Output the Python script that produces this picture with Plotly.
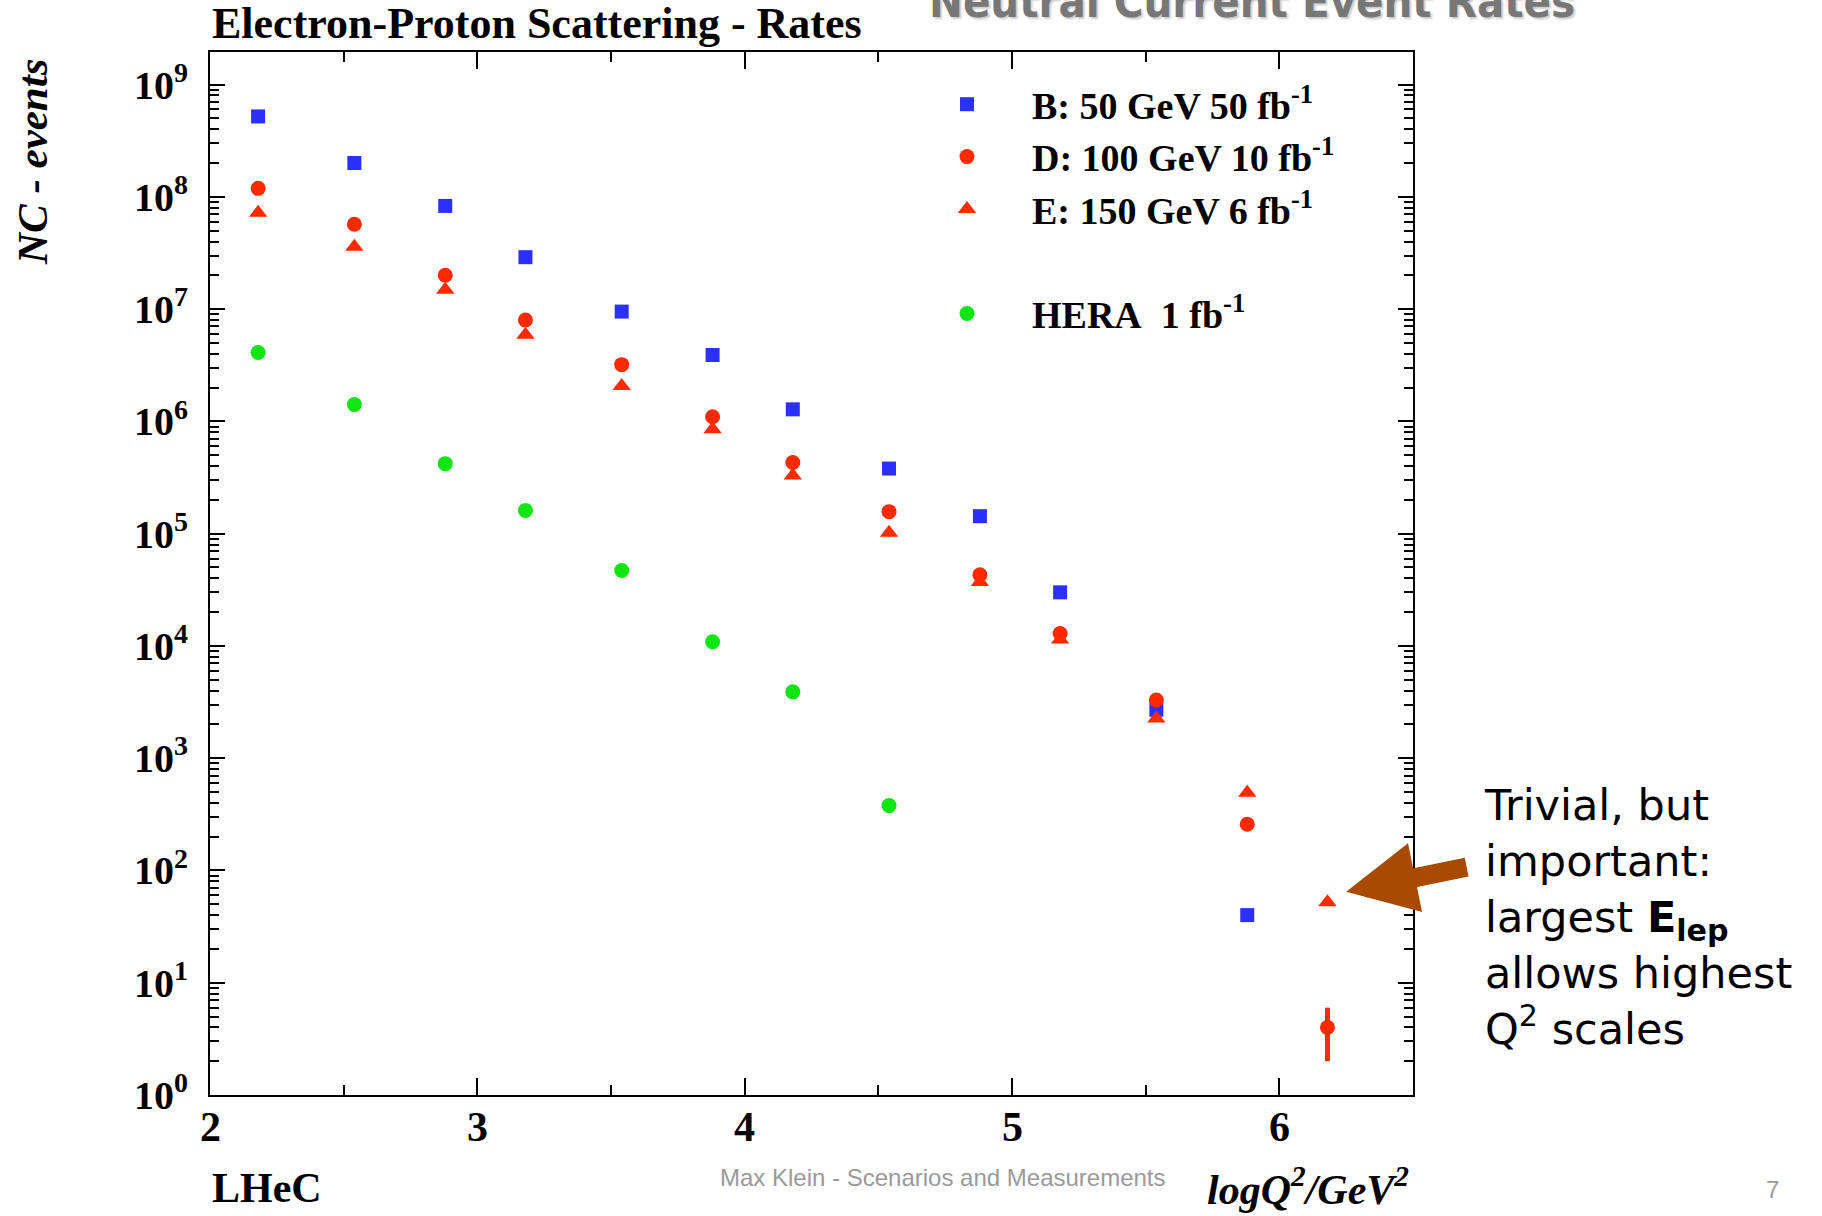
import plotly.graph_objects as go

# ---------------- data ----------------
q2_log = [2.18, 2.54, 2.88, 3.18, 3.54, 3.88, 4.18, 4.54, 4.88, 5.18, 5.54, 5.88, 6.18]

b_events = [5.2e8, 2.0e8, 8.3e7, 2.9e7, 9.5e6, 3.9e6, 1.28e6, 3.8e5, 1.43e5, 3.0e4, 2.7e3, 40]
d_events = [1.19e8, 5.7e7, 2.0e7, 8.0e6, 3.2e6, 1.1e6, 4.3e5, 1.57e5, 4.3e4, 1.29e4, 3.3e3, 258, 4.0]
d_errors = [0, 0, 0, 0, 0, 0, 0, 0, 0, 0, 0, 0, 2.0]
e_events = [7.2e7, 3.6e7, 1.49e7, 5.9e6, 2.07e6, 8.5e5, 3.3e5, 1.02e5, 3.7e4, 1.14e4, 2.26e3, 492, 52]
hera_events = [4.1e6, 1.41e6, 4.2e5, 1.61e5, 4.7e4, 1.09e4, 3.9e3, 378]

series_names = [
    "B: 50 GeV 50 fb<sup>-1</sup>",
    "D: 100 GeV 10 fb<sup>-1</sup>",
    "E: 150 GeV 6 fb<sup>-1</sup>",
    "HERA\u00a0 1 fb<sup>-1</sup>",
]

y_exponents = [0, 1, 2, 3, 4, 5, 6, 7, 8, 9]
y_tick_vals = [10 ** e for e in y_exponents]
y_tick_text = ["10<sup>%d</sup>" % e for e in y_exponents]
y_minor_vals = [k * 10 ** e for e in y_exponents for k in range(2, 10)]

x_tick_vals = [2, 3, 4, 5, 6]
x_tick_text = ["2", "3", "4", "5", "6"]

BLUE = "#2b30ff"
RED = "#ff2a00"
GREEN = "#12e612"
SERIF = "Liberation Serif, Times New Roman, serif"

# pixel layout of the frame
W, H = 1822, 1216
L, R, T, B = 210, 1413, 52, 1095


def px(x):
    return (x - L) / (R - L)


def py(y):
    return (B - y) / (B - T)


fig = go.Figure()

fig.add_trace(go.Scatter(
    x=q2_log[:len(b_events)], y=b_events, mode="markers", name=series_names[0],
    legendgroup="lhec",
    marker=dict(symbol="square", size=14, color=BLUE),
))
fig.add_trace(go.Scatter(
    x=q2_log[:len(d_events)], y=d_events, mode="markers", name=series_names[1],
    legendgroup="lhec",
    marker=dict(symbol="circle", size=15, color=RED),
    error_y=dict(type="data", array=d_errors, visible=True, color=RED, thickness=5, width=0),
))
fig.add_trace(go.Scatter(
    x=q2_log[:len(e_events)], y=e_events, mode="markers", name=series_names[2],
    legendgroup="lhec",
    marker=dict(symbol="triangle-up", size=16, color=RED),
))
fig.add_trace(go.Scatter(
    x=q2_log[:len(hera_events)], y=hera_events, mode="markers", name=series_names[3],
    legendgroup="hera",
    marker=dict(symbol="circle", size=15, color=GREEN),
))

axis_common = dict(
    showline=True, linecolor="black", linewidth=2, mirror="ticks",
    ticks="inside", tickcolor="black", tickwidth=2,
    showgrid=False, zeroline=False,
)

fig.update_xaxes(
    range=[2, 6.5], tickmode="array", tickvals=x_tick_vals, ticktext=x_tick_text,
    ticklen=17, showticklabels=False,
    minor=dict(dtick=0.5, ticks="inside", ticklen=10, tickwidth=2, tickcolor="black", showgrid=False),
    **axis_common,
)
fig.update_yaxes(
    type="log", range=[0, 9.29], tickmode="array", tickvals=y_tick_vals, ticktext=y_tick_text,
    ticklen=15, ticklabelstandoff=12,
    tickfont=dict(family=SERIF, size=40, color="black", weight="bold"),
    minor=dict(tickmode="array", tickvals=y_minor_vals, ticks="inside", ticklen=9,
               tickwidth=2, tickcolor="black", showgrid=False),
    **axis_common,
)

annotations = [
    # chart title
    dict(text="<b>Electron-Proton Scattering - Rates</b>", xref="paper", yref="paper",
         x=0, y=py(23), xanchor="left", yanchor="middle", showarrow=False,
         font=dict(family=SERIF, size=44, color="black")),
    # slide title, cut by the top of the page
    dict(text="<b>Neutral Current Event Rates</b>", xref="paper", yref="paper",
         x=px(1252), y=py(2), xanchor="center", yanchor="middle", showarrow=False,
         font=dict(family="Liberation Sans Narrow, DejaVu Sans Condensed, Liberation Sans", size=45,
                   color="#777777", shadow="2px 2px 2px #cccccc")),
    # y axis title
    dict(text="<b><i>NC - events</i></b>", xref="paper", yref="paper",
         x=px(32), y=py(162), xanchor="center", yanchor="middle", textangle=-90, showarrow=False,
         font=dict(family=SERIF, size=43, color="black")),
    # x axis title
    dict(text="<b><i>logQ<sup>2</sup>/GeV<sup>2</sup></i></b>", xref="paper", yref="paper",
         x=px(1411), y=py(1186), xanchor="right", yanchor="middle", showarrow=False,
         font=dict(family=SERIF, size=42, color="black")),
    # LHeC label
    dict(text="<b>LHeC</b>", xref="paper", yref="paper",
         x=0, y=py(1188), xanchor="left", yanchor="middle", showarrow=False,
         font=dict(family=SERIF, size=42, color="black")),
    # footer
    dict(text="Max Klein - Scenarios and Measurements", xref="paper", yref="paper",
         x=px(943), y=py(1177), xanchor="center", yanchor="middle", showarrow=False,
         font=dict(family="Liberation Sans, Arial, sans-serif", size=24, color="#9a9a9a")),
    dict(text="7", xref="paper", yref="paper",
         x=px(1772), y=py(1189), xanchor="center", yanchor="middle", showarrow=False,
         font=dict(family="Liberation Sans, Arial, sans-serif", size=24, color="#9a9a9a")),
    # side comment
    dict(text="Trivial, but<br>important:<br>largest <b>E<sub>lep</sub></b><br>allows highest<br>Q<sup>2</sup> scales",
         xref="paper", yref="paper", x=px(1482), y=py(917), xanchor="left", yanchor="middle",
         align="left", showarrow=False,
         font=dict(family="DejaVu Sans, sans-serif", size=43, color="black")),
    # brown arrow pointing at the highest-Q2 point
    dict(text="", x=6.25, y=1.81, xref="x", yref="y", showarrow=True,
         ax=122, ay=-25, axref="pixel", ayref="pixel",
         arrowcolor="#a84a00", arrowwidth=19, arrowhead=2, arrowsize=0.74, standoff=0),
]

# x tick labels (bold serif), placed just below the frame
for v, t in zip(x_tick_vals, x_tick_text):
    annotations.append(dict(
        text="<b>%s</b>" % t, x=v, xref="x", y=0, yref="paper",
        yshift=-(1127 - B), xanchor="center", yanchor="middle", showarrow=False,
        font=dict(family=SERIF, size=42, color="black")))

fig.update_layout(
    width=W, height=H,
    margin=dict(l=L, r=W - R, t=T, b=H - B),
    paper_bgcolor="white", plot_bgcolor="white",
    showlegend=True,
    legend=dict(x=px(902), y=py(73), xanchor="left", yanchor="top",
                font=dict(family=SERIF, size=38, color="black", weight="bold"),
                itemwidth=120, tracegroupgap=52, bgcolor="rgba(0,0,0,0)",
                itemclick=False, itemdoubleclick=False),
    annotations=annotations,
)

fig.write_html("out.html")
